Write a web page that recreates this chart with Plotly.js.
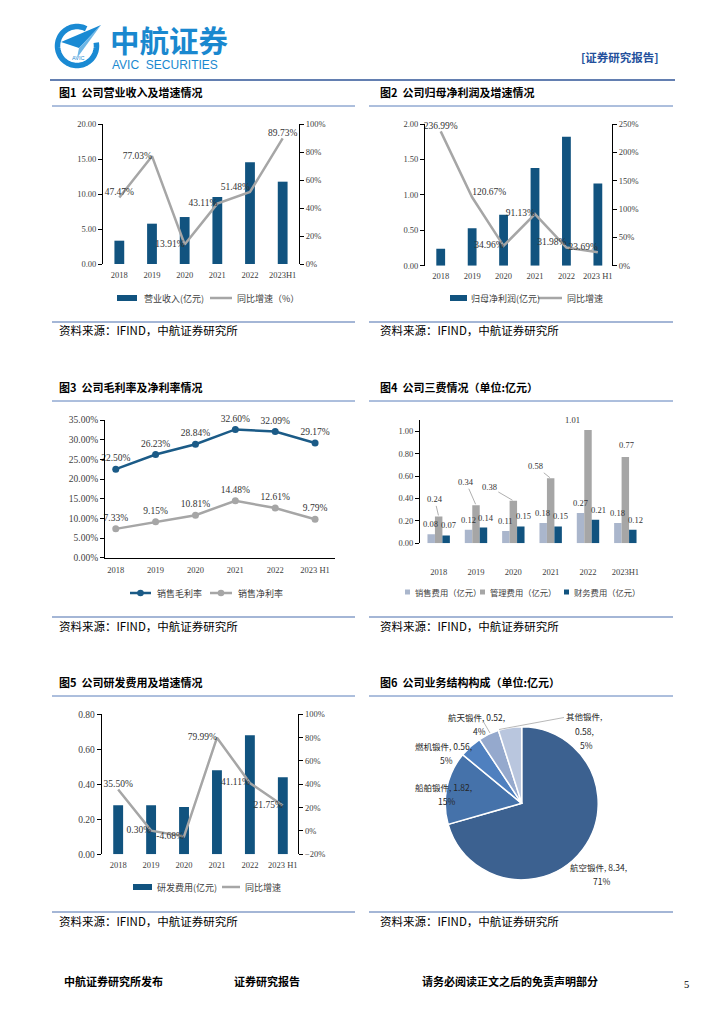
<!DOCTYPE html>
<html><head><meta charset="utf-8">
<script src="https://cdn.plot.ly/plotly-3.0.1.min.js"></script>
<style>html,body{margin:0;padding:0;background:#fff}#chart{width:724px;height:1024px}</style>
</head><body><div id="chart"></div>
<script>
// ---------------- data ----------------
const years = ['2018','2019','2020','2021','2022','2023H1'];
const yearsB = ['2018','2019','2020','2021','2022','2023 H1'];
const revenue = [3.33, 5.76, 6.71, 9.57, 14.52, 11.76];
const revenueGrowth = [47.47, 77.03, 13.91, 43.11, 51.48, 89.73];
const netProfit = [0.24, 0.53, 0.72, 1.38, 1.82, 1.16];
const netProfitGrowth = [236.99, 120.67, 34.96, 91.13, 31.98, 23.69];
const grossMargin = [22.50, 26.23, 28.84, 32.60, 32.09, 29.17];
const netMargin = [7.33, 9.15, 10.81, 14.48, 12.61, 9.79];
const sellingExp = [0.08, 0.12, 0.11, 0.18, 0.27, 0.18];
const adminExp = [0.24, 0.34, 0.38, 0.58, 1.01, 0.77];
const financeExp = [0.07, 0.14, 0.15, 0.15, 0.21, 0.12];
const rdExp = [0.28, 0.28, 0.27, 0.48, 0.68, 0.44];
const rdGrowth = [35.50, 0.30, -4.68, 79.99, 41.11, 21.75];
const segments = ['航空锻件','船舶锻件','燃机锻件','航天锻件','其他锻件'];
const segmentValues = [8.34, 1.82, 0.56, 0.52, 0.58];

const figTitles = ['图1  公司营业收入及增速情况','图2  公司归母净利润及增速情况','图3  公司毛利率及净利率情况','图4  公司三费情况（单位:亿元）','图5  公司研发费用及增速情况','图6  公司业务结构构成（单位:亿元）'];
const sourceText = '资料来源：IFIND，中航证券研究所';
const names1 = ['营业收入(亿元)','同比增速（%）'];
const names2 = ['归母净利润(亿元)','同比增速'];
const names3 = ['销售毛利率','销售净利率'];
const names4 = ['销售费用（亿元）','管理费用（亿元）','财务费用（亿元）'];
const names5 = ['研发费用(亿元)','同比增速'];

// ---------------- helpers ----------------
const W=724,H=1024;
const X=p=>p/W, Y=p=>1-p/H;
const CJK='Noto Sans CJK SC, sans-serif';
const SERIF='Liberation Serif, serif';
const BLUE='#11537f', GREY='#a6a6a6', LBLUE='#aab6cc';
const pct = a => a.map(v=>v.toFixed(2)+'%');
const tickFont = s => ({family:SERIF,size:s||8.5,color:'#404040'});
const labFont = s => ({family:SERIF,size:s||9.5,color:'#333333'});

function axY(top,bottom,extra){ return Object.assign({domain:[Y(bottom),Y(top)], showgrid:false, zeroline:false, showline:true, linecolor:'#000', linewidth:1, ticks:'outside', ticklen:4, tickcolor:'#000', tickfont:tickFont(), fixedrange:true}, extra); }
function axR(extra){ return Object.assign({side:'right', showgrid:false, zeroline:false, showline:true, linecolor:'#000', linewidth:1, ticks:'outside', ticklen:4, tickcolor:'#000', tickfont:tickFont(), fixedrange:true}, extra); }
function axX(left,right,extra){ return Object.assign({domain:[X(left),X(right)], type:'category', showgrid:false, zeroline:false, showline:false, ticks:'', tickfont:tickFont(), fixedrange:true}, extra); }

const shapes=[], ann=[];
function hline(x0,x1,y,color,w){ shapes.push({type:'line',xref:'paper',yref:'paper',x0:X(x0),x1:X(x1),y0:Y(y),y1:Y(y),line:{color:color,width:w}}); }
function txt(x,y,text,font,xanchor,extra){ ann.push(Object.assign({xref:'paper',yref:'paper',x:X(x),y:Y(y),text:text,showarrow:false,font:font,xanchor:xanchor||'left',yanchor:'middle'},extra||{})); }
function legRect(x0,x1,y,h,color,label,tx,fs){ shapes.push({type:'rect',xref:'paper',yref:'paper',x0:X(x0),x1:X(x1),y0:Y(y+h/2),y1:Y(y-h/2),fillcolor:color,line:{width:0}}); txt(tx,y,label,{family:CJK,size:fs||9,color:'#404040'}); }
function legLine(x0,x1,y,color,label,tx,marker){ shapes.push({type:'line',xref:'paper',yref:'paper',x0:X(x0),x1:X(x1),y0:Y(y),y1:Y(y),line:{color:color,width:2.5}});
  if(marker){ const c=(x0+x1)/2; shapes.push({type:'circle',xref:'paper',yref:'paper',x0:X(c-3.3),x1:X(c+3.3),y0:Y(y+3.3),y1:Y(y-3.3),fillcolor:color,line:{width:0}}); }
  txt(tx,y,label,{family:CJK,size:9,color:'#404040'}); }

// ---------------- page frame ----------------
// logo
(function(){
  const cx=77, cy=46, r=19.5; let d='';
  for(let a=62;a<=372;a+=4){ const t=a*Math.PI/180; const px=cx+r*Math.cos(t), py=cy-r*Math.sin(t); d+=(d?' L ':'M ')+X(px)+','+Y(py); }
  shapes.push({type:'path',xref:'paper',yref:'paper',path:d,line:{color:'#1a8ad3',width:5.5}});
  const P=(pts)=>'M '+pts.map(p=>X(p[0])+','+Y(p[1])).join(' L ')+' Z';
  shapes.push({type:'path',xref:'paper',yref:'paper',path:P([[101,25],[61,42],[79,48]]),fillcolor:'#1a8ad3',line:{width:0}});
  shapes.push({type:'path',xref:'paper',yref:'paper',path:P([[101,25],[79,48],[77,58]]),fillcolor:'#6db6e6',line:{width:0}});
  txt(78,58,'AVIC',{family:'Liberation Sans, sans-serif',size:5.5,color:'#1a8ad3'},'center');
})();
txt(108,38.5,'<b>中航证券</b>',{family:CJK,size:29.5,color:'#1a88cf'});
txt(110,65,'AVIC  SECURITIES',{family:'Liberation Sans, sans-serif',size:12,color:'#1a88cf'});
txt(661,57,'<b>[证券研究报告]</b>',{family:CJK,size:11.5,color:'#24509c'},'right');
hline(50,675,80,'#2f5597',1.5);

const cols=[[52,355,57],[369,673,378]];
const rows=[[92,106,322,330],[387,401,617,626],[682,696,912,921]];
for(let r=0;r<3;r++) for(let c=0;c<2;c++){
  const [x0,x1,tx]=cols[c], [ty,tl,bl,sy]=rows[r];
  txt(tx,ty,'<b>'+figTitles[r*2+c]+'</b>',{family:CJK,size:11,color:'#000'});
  hline(x0,x1,tl,'#5b7fbb',1);
  hline(x0,x1,bl,'#4a6fae',1.2);
  txt(tx,sy,sourceText,{family:CJK,size:11.5,color:'#000'});
}
// footer
txt(62,981,'<b>中航证券研究所发布</b>',{family:CJK,size:11,color:'#000'});
txt(232,981,'<b>证券研究报告</b>',{family:CJK,size:11,color:'#000'});
txt(420,981,'<b>请务必阅读正文之后的免责声明部分</b>',{family:CJK,size:11,color:'#000'});
txt(686,984,'5',{family:SERIF,size:10.5,color:'#000'},'center');

// ---------------- traces ----------------
const traces=[];
// Fig 1
traces.push({type:'bar',x:years,y:revenue,xaxis:'x',yaxis:'y',width:0.3,marker:{color:BLUE},hoverinfo:'skip',showlegend:false});
traces.push({type:'scatter',mode:'lines+text',x:years,y:revenueGrowth,xaxis:'x',yaxis:'y2',line:{color:GREY,width:2.5},text:pct(revenueGrowth),textposition:['top center','middle left','middle left','middle left','top left','top center'],textfont:labFont(9.5),cliponaxis:false,hoverinfo:'skip',showlegend:false});
legRect(117,137,298,6,BLUE,names1[0],142); legLine(210,232,298,GREY,names1[1],235,false);
// Fig 2
traces.push({type:'bar',x:yearsB,y:netProfit,xaxis:'x2',yaxis:'y3',width:0.28,marker:{color:BLUE},hoverinfo:'skip',showlegend:false});
traces.push({type:'scatter',mode:'lines+text',x:yearsB,y:netProfitGrowth,xaxis:'x2',yaxis:'y4',line:{color:GREY,width:2.5},text:pct(netProfitGrowth),textposition:['top center','top right','middle left','middle left','top left','top left'],textfont:labFont(9.5),cliponaxis:false,hoverinfo:'skip',showlegend:false});
legRect(450,467,298,6,BLUE,names2[0],469); legLine(538,562,298,GREY,names2[1],565,false);
// Fig 3
traces.push({type:'scatter',mode:'lines+markers+text',x:yearsB,y:grossMargin,xaxis:'x3',yaxis:'y5',line:{color:'#1b5b87',width:2.5},marker:{color:'#1b5b87',size:7},text:pct(grossMargin),textposition:'top center',textfont:labFont(9.5),cliponaxis:false,hoverinfo:'skip',showlegend:false});
traces.push({type:'scatter',mode:'lines+markers+text',x:yearsB,y:netMargin,xaxis:'x3',yaxis:'y5',line:{color:GREY,width:2.5},marker:{color:GREY,size:7},text:pct(netMargin),textposition:'top center',textfont:labFont(9.5),cliponaxis:false,hoverinfo:'skip',showlegend:false});
legLine(130,151,593,'#1b5b87',names3[0],155,true); legLine(210,232,593,GREY,names3[1],236,true);
// Fig 4
traces.push({type:'bar',x:years,y:sellingExp,xaxis:'x4',yaxis:'y6',offset:-0.3,width:0.2,marker:{color:LBLUE},hoverinfo:'skip',showlegend:false});
traces.push({type:'bar',x:years,y:adminExp,xaxis:'x4',yaxis:'y6',offset:-0.1,width:0.2,marker:{color:GREY},hoverinfo:'skip',showlegend:false});
traces.push({type:'bar',x:years,y:financeExp,xaxis:'x4',yaxis:'y6',offset:0.1,width:0.2,marker:{color:BLUE},hoverinfo:'skip',showlegend:false});
// annotations on a category axis take the category index
sellingExp.forEach((v,i)=>{ ann.push({xref:'x4',yref:'y6',x:i,y:v,text:v.toFixed(2),showarrow:false,xshift:-8,yshift:10,font:labFont(8.5)}); });
financeExp.forEach((v,i)=>{ ann.push({xref:'x4',yref:'y6',x:i,y:v,text:v.toFixed(2),showarrow:false,xshift:10,yshift:10,font:labFont(8.5)}); });
const adminOffsets=[[-4,-17,1],[-10,-23,1],[-24,-14,1],[-15,-12,1],[-16,-10,0],[1,-12,0]];
adminExp.forEach((v,i)=>{ const o=adminOffsets[i]; ann.push({xref:'x4',yref:'y6',x:i,y:v,text:v.toFixed(2),showarrow:true,arrowhead:0,arrowwidth:0.7,arrowcolor:o[2]?'#8c8c8c':'rgba(0,0,0,0)',ax:o[0],ay:o[1],standoff:1,font:labFont(8.5)}); });
legRect(405,410,592,5,LBLUE,names4[0],413,8.3); legRect(480,485,592,5,GREY,names4[1],488,8.3); legRect(564,569,592,5,BLUE,names4[2],572,8.3);
// Fig 5
traces.push({type:'bar',x:yearsB,y:rdExp,xaxis:'x5',yaxis:'y7',width:0.3,marker:{color:BLUE},hoverinfo:'skip',showlegend:false});
traces.push({type:'scatter',mode:'lines+text',x:yearsB,y:rdGrowth,xaxis:'x5',yaxis:'y8',line:{color:GREY,width:2.5},text:pct(rdGrowth),textposition:['top center','middle left','middle left','middle left','middle left','middle left'],textfont:labFont(9.5),cliponaxis:false,hoverinfo:'skip',showlegend:false});
legRect(133,152,887,6,BLUE,names5[0],155); legLine(222,240,887,GREY,names5[1],243,false);
// Fig 6
const cxp=521.7, cyp=803.3, rp=76.5;
traces.push({type:'pie',labels:segments,values:segmentValues,sort:false,direction:'clockwise',rotation:0,textinfo:'none',hoverinfo:'skip',showlegend:false,
  marker:{colors:['#3c6190','#4572aa','#4f80bf','#95a9cd','#b9c6de'],line:{color:'#fff',width:1.5}},
  domain:{x:[X(cxp-rp),X(cxp+rp)],y:[Y(cyp+rp),Y(cyp-rp)]}});
const segTotal=segmentValues.reduce((a,b)=>a+b,0);
const pieLabelPos=[[598,866.7,14,false],[443,786.7,14,false],[443,746,14,false],[476,716.7,14,false],[584,716,14.5,true]];
segments.forEach((s,i)=>{ const [x,y,dy,three]=pieLabelPos[i]; const share=Math.round(segmentValues[i]/segTotal*100)+'%'; const ff={family:CJK,size:8.5,color:'#262626'};
  if(three){ txt(x,y,s+',',ff,'center'); txt(x,y+dy,segmentValues[i].toFixed(2)+',',ff,'center'); txt(x+2,y+2*dy,share,ff,'center'); }
  else { txt(x,y,s+', '+segmentValues[i].toFixed(2)+',',ff,'center'); txt(x+3,y+dy,share,ff,'center'); } });
shapes.push({type:'line',xref:'paper',yref:'paper',x0:X(483),x1:X(490),y0:Y(721),y1:Y(733),line:{color:'#a6a6a6',width:0.8}});
shapes.push({type:'line',xref:'paper',yref:'paper',x0:X(564),x1:X(499),y0:Y(717.5),y1:Y(729.5),line:{color:'#a6a6a6',width:0.8}});

// ---------------- layout ----------------
const layout={width:W,height:H,margin:{l:0,r:0,t:0,b:0,pad:0},paper_bgcolor:'#fff',plot_bgcolor:'rgba(0,0,0,0)',showlegend:false,
  xaxis:axX(103,299,{anchor:'y',range:[-0.5,5.5],ticklabelstandoff:4}),
  yaxis:axY(124,264,{anchor:'x',range:[0,20],dtick:5,tickformat:'.2f'}),
  yaxis2:axR({overlaying:'y',anchor:'x',range:[0,100],dtick:20,ticksuffix:'%'}),
  xaxis2:axX(425,612,{anchor:'y3',range:[-0.5,5.45],ticklabelstandoff:4}),
  yaxis3:axY(124,265.7,{anchor:'x2',range:[0,2],dtick:0.5,tickformat:'.2f'}),
  yaxis4:axR({overlaying:'y3',anchor:'x2',range:[0,250],dtick:50,ticksuffix:'%'}),
  xaxis3:axX(105,335,{anchor:'y5',range:[-0.27,5.5],showline:true,linecolor:'#000',linewidth:1,ticklabelstandoff:4}),
  yaxis5:axY(420,557.7,{anchor:'x3',range:[0,35],dtick:5,tickformat:'.2f',ticksuffix:'%',tickfont:tickFont(9.5)}),
  xaxis4:axX(420,644,{anchor:'y6',range:[-0.5,5.5],ticklabelstandoff:22}),
  yaxis6:axY(420,543.3,{anchor:'x4',range:[0,1.1],tickvals:[0,0.2,0.4,0.6,0.8,1.0],tickformat:'.2f'}),
  xaxis5:axX(101.7,298.3,{anchor:'y7',range:[-0.5,5.47],ticklabelstandoff:4}),
  yaxis7:axY(714.3,854.3,{anchor:'x5',range:[0,0.8],dtick:0.2,tickformat:'.2f',tickfont:tickFont(9.5)}),
  yaxis8:axR({overlaying:'y7',anchor:'x5',range:[-20,100],dtick:20,ticksuffix:'%'}),
  shapes:shapes, annotations:ann};
Plotly.newPlot('chart',traces,layout,{staticPlot:true,displayModeBar:false});
</script></body></html>
